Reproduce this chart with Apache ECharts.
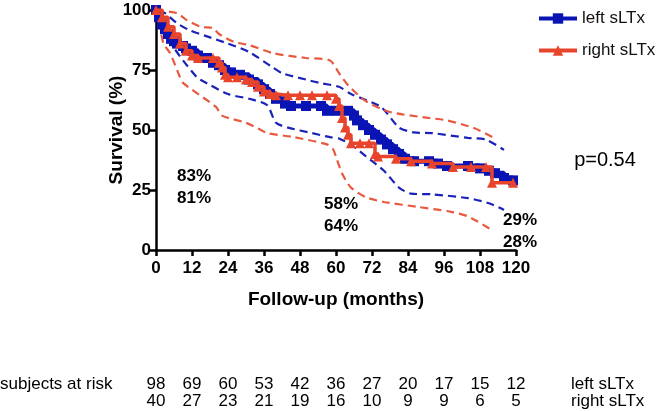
<!DOCTYPE html>
<html><head><meta charset="utf-8">
<script src="https://cdn.jsdelivr.net/npm/echarts@6/dist/echarts.min.js"></script>
<style>html,body{margin:0;padding:0;background:#fff}#c{width:665px;height:411px}</style>
</head><body><div id="c"></div>
<script>
// Kaplan-Meier curves (months, survival %)
const leftKM = [[0,100],[1,97],[2,94],[3,92],[4,90],[5,88],[6,87],[7,86],[9,85],[10,84],[12,83],[14,81],[17,80],[19,78],[21,77],[23,75],[25,74],[28,73],[31,71],[34,69],[36,67],[38,65],[40,63],[43,61],[45,60],[50,60],[55,60],[57,58],[60,58],[64,58],[66,56],[67,54],[69,52],[71,50],[73,48],[75,46],[77,44],[79,42],[81,40],[83,38],[86,37],[91,37],[94,36],[97,35],[104,35],[108,34],[111,33],[113,32],[116,30],[119,29]];
const rightKM = [[0,100],[2,97],[4,93],[6,90],[8,86],[10,83],[12,81],[14,80],[19,80],[21,78],[22,76],[23,73],[24,72],[27,72],[30,71],[32,70],[34,68],[36,66],[38,65],[40,64.5],[44,64.5],[48,64.5],[52,64.5],[57,64.5],[60,63],[61,60],[62,55],[63,51],[64,48],[65,44.5],[68,44.5],[71,44.5],[73,40],[74,39],[80,38],[85,37],[92,36],[99,34.6],[105,34.6],[110,34.6],[112,28],[119,28]];
// confidence bands
const leftUpper = [[1,100],[3,98.7],[7,94.5],[11,91.7],[17,89],[24,86],[31,82.5],[39,76],[42,73.7],[50,71],[55,69.5],[61,68],[65,65],[75,59.6],[81,51],[86,49],[92,48.7],[104,46.7],[110,46],[116,41.7]];
const leftLower = [[1,98],[3,90],[5,86],[9,79],[13.6,72],[15,70.8],[24,65],[31,63],[37,60.4],[40,53],[44,51],[52,48.7],[58,47],[61,46.5],[66,43],[70,39],[76,33],[81,26],[85,23.5],[92,23.2],[104,21.6],[111,19.5],[116,16.7]];
const rightUpper = [[0,100],[7,98.7],[10,96],[15,93],[19,92.5],[21,90],[26,86.7],[31,85.4],[39,82],[50,80],[58,79],[61,73.7],[64,68.7],[70,62],[78,57.5],[91,55],[97,54],[106,50.8],[113,46.5]];
const rightLower = [[1,95],[2.5,86],[4.7,82],[8,72],[9,69.6],[20,59.6],[22,56],[30,53],[35,50],[37,48.7],[46,47],[57,44],[59,42],[60,38.8],[62,32],[65,26],[70,22],[76,20],[87,18],[98,16],[104,14],[112,8.3]];
// risk table
const riskMonths = [0,12,24,36,48,60,72,84,96,108,120];
const riskLeft = [98,69,60,53,42,36,27,20,17,15,12];
const riskRight = [40,27,23,21,19,16,10,9,9,6,5];
// survival annotations
const annotMonths = [12,60,120];
const annotLeft = ['83%','58%','29%'];
const annotRight = ['81%','64%','28%'];

const BLUE = '#0a14b4', RED = '#e8442c', BLUE_D = '#1a22b8', RED_D = '#e85a40';
const FF = '"Liberation Sans", Arial, sans-serif';
const chart = echarts.init(document.getElementById('c'), null, {renderer:'canvas'});
const dashed = (name, data, color) => ({
  name, type:'line', data, symbol:'none', smooth:0.25, silent:true,
  lineStyle:{color, width:2.2, type:[8,5]}, z:1
});
chart.setOption({
  animation:false,
  backgroundColor:'#fff',
  grid:{left:156, right:149, top:10, bottom:161},
  legend:{
    data:['left sLTx','right sLTx'], orient:'vertical', left:532, top:5,
    itemWidth:38, itemHeight:13, itemGap:15,
    lineStyle:{width:4},
    textStyle:{fontFamily:FF, fontSize:17, color:'#111'}
  },
  xAxis:{
    type:'value', min:0, max:120, interval:12,
    name:'Follow-up (months)', nameLocation:'middle', nameGap:40,
    nameTextStyle:{fontFamily:FF, fontSize:19, fontWeight:'bold', color:'#000'},
    axisLine:{lineStyle:{color:'#000', width:2.5}},
    axisTick:{length:6, lineStyle:{color:'#000', width:2.5}},
    axisLabel:{margin:10, fontFamily:FF, fontSize:17, fontWeight:'bold', color:'#000'},
    splitLine:{show:false}
  },
  yAxis:{
    type:'value', min:0, max:100, interval:25,
    name:'Survival (%)', nameLocation:'middle', nameGap:30, nameMoveOverlap:false,
    nameTextStyle:{fontFamily:FF, fontSize:19, fontWeight:'bold', color:'#000'},
    axisLine:{show:true, lineStyle:{color:'#000', width:2.5}},
    axisTick:{show:true, length:6, lineStyle:{color:'#000', width:2.5}},
    axisLabel:{margin:5, fontFamily:FF, fontSize:17, fontWeight:'bold', color:'#000'},
    splitLine:{show:false}
  },
  series:[
    dashed('lu', leftUpper, BLUE_D),
    dashed('ll', leftLower, BLUE_D),
    dashed('ru', rightUpper, RED_D),
    dashed('rl', rightLower, RED_D),
    {name:'left sLTx', type:'line', step:'end', data:leftKM, symbol:'rect', symbolSize:10, showAllSymbol:true,
     lineStyle:{color:BLUE, width:5}, itemStyle:{color:BLUE}, z:3},
    {name:'right sLTx', type:'line', step:'end', data:rightKM, symbol:'triangle', symbolSize:10, showAllSymbol:true,
     lineStyle:{color:RED, width:3.5}, itemStyle:{color:RED}, z:4}
  ]
});

const g = [];
const txt = (x, y, t, opts) => g.push({type:'text', x, y, style:Object.assign({text:t, fontFamily:FF, fontSize:17, fill:'#000', textAlign:'center', textVerticalAlign:'middle'}, opts||{})});
const annotY = [[176,198],[204,226],[220,242]];
const annotDx = [2, 5, 4];
annotMonths.forEach((m,i)=>{
  const p = chart.convertToPixel({gridIndex:0}, [m, 0]);
  txt(p[0]+annotDx[i], annotY[i][0], annotLeft[i], {fontSize:17, fontWeight:'bold'});
  txt(p[0]+annotDx[i], annotY[i][1], annotRight[i], {fontSize:17, fontWeight:'bold'});
});
txt(605, 160, 'p=0.54', {fontSize:20});
txt(0, 384, 'subjects at risk', {textAlign:'left'});
riskMonths.forEach((m,i)=>{
  const p = chart.convertToPixel({gridIndex:0}, [m, 0]);
  txt(p[0], 384, String(riskLeft[i]));
  txt(p[0], 401, String(riskRight[i]));
});
txt(571, 384, 'left sLTx', {textAlign:'left'});
txt(571, 401, 'right sLTx', {textAlign:'left'});
chart.setOption({graphic:g});
</script></body></html>
